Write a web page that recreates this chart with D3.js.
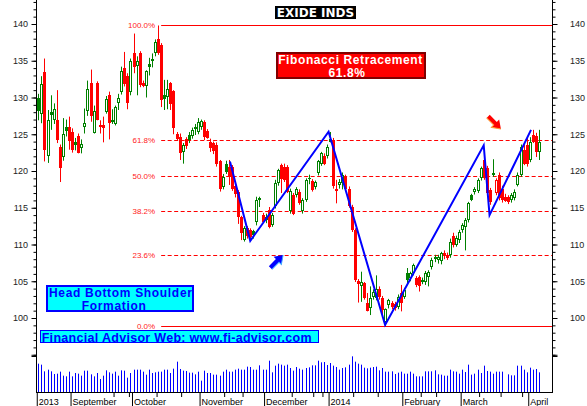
<!DOCTYPE html>
<html>
<head>
<meta charset="utf-8">
<script src="https://cdn.jsdelivr.net/npm/d3@7"></script>
<style>
  body { margin: 0; background: #fff; }
  svg { display: block; }
</style>
</head>
<body>
<div id="chart"></div>
<script>
// Daily bars, EXIDE INDS, Aug 2013 - Apr 2014
const open = [
  130.0,127.7,133.5,122.1,128.0,127.0,126.9,123.3,121.9,126.0,
  126.0,125.3,123.9,124.8,123.1,126.0,128.1,132.0,125.2,132.0,
  126.3,126.3,128.0,130.3,126.6,126.4,129.3,130.8,134.0,132.9,
  130.8,136.1,134.3,136.0,132.0,131.5,134.6,134.9,136.1,138.0,
  137.1,130.4,130.1,132.0,130.9,125.0,124.6,122.6,124.3,124.9,
  124.8,126.0,125.3,126.0,126.6,125.5,124.0,123.8,123.6,121.3,
  117.8,121.0,120.6,120.5,117.9,117.2,113.8,110.6,112.2,112.0,
  111.8,113.1,116.3,114.0,113.3,114.7,112.6,115.2,118.3,120.8,
  120.6,120.6,114.5,116.7,116.7,117.2,114.5,116.1,119.1,118.6,
  117.8,119.7,121.0,122.0,122.0,124.4,124.2,117.6,118.1,118.3,
  119.2,117.6,115.1,112.0,105.0,104.3,104.7,102.1,101.3,102.8,
  102.7,104.0,102.7,99.5,101.8,102.0,101.9,101.5,103.4,102.9,
  106.1,105.4,106.1,105.4,105.6,105.2,104.9,105.6,107.0,108.3,
  107.9,107.7,108.9,108.6,108.6,111.1,110.0,110.6,112.0,112.4,
  113.3,116.7,117.2,117.3,119.0,121.5,120.4,117.4,119.7,117.0,
  119.5,117.6,116.5,116.4,116.0,116.3,118.1,119.5,122.9,123.5,
  121.5,124.9,124.7,122.6
];
const high = [
  130.5,132.9,135.3,128.3,130.3,129.2,131.0,123.6,127.2,127.0,
  127.4,125.8,124.5,125.1,124.3,128.5,132.3,133.8,128.9,132.2,
  126.9,127.4,130.2,130.8,128.4,128.9,130.5,134.2,136.2,133.3,
  135.3,138.7,135.6,136.3,132.3,133.7,135.4,136.0,137.9,139.8,
  137.4,132.4,132.4,132.1,131.0,125.3,125.1,123.8,124.6,125.3,
  125.9,126.4,127.2,127.0,126.9,125.7,124.4,124.0,123.9,121.5,
  119.6,121.4,121.5,120.8,118.2,117.4,113.9,112.5,112.5,112.2,
  112.0,116.5,116.5,114.3,114.2,115.1,114.3,118.8,120.3,121.0,
  121.0,120.8,117.6,117.0,117.8,117.5,116.3,119.0,119.5,118.9,
  118.7,121.5,122.6,122.4,123.6,125.3,124.5,118.8,118.9,119.8,
  119.5,117.9,115.4,112.2,105.3,106.3,104.9,103.4,104.3,103.9,
  105.8,104.3,103.0,101.3,102.6,102.3,102.2,103.2,104.5,104.1,
  106.8,106.3,107.4,105.7,105.8,105.5,106.4,106.5,108.2,108.6,
  108.6,109.0,109.2,108.9,110.8,111.6,111.2,112.0,112.9,113.6,
  115.8,116.9,117.8,119.0,120.6,122.3,120.7,117.7,121.6,119.0,
  119.8,118.0,116.9,116.7,117.0,117.5,119.8,123.6,123.6,124.7,
  124.6,125.6,125.2,125.6
];
const low = [
  126.9,126.5,121.3,121.1,125.6,126.4,123.8,118.5,121.4,124.7,
  122.9,122.5,122.8,122.4,122.4,125.1,127.5,126.7,125.1,126.9,
  125.1,123.9,127.8,124.3,126.4,126.2,128.3,130.4,131.5,128.4,
  130.3,133.3,130.3,131.4,131.4,130.0,133.0,134.1,135.6,135.8,
  128.7,128.3,128.4,128.3,125.0,124.2,121.5,121.0,123.0,123.8,
  124.4,124.9,125.0,125.6,124.2,124.4,122.6,122.3,120.6,117.2,
  117.5,119.6,118.1,117.3,116.4,112.8,110.6,110.4,110.8,110.5,
  110.8,112.6,115.1,113.0,112.9,112.2,112.4,114.9,118.0,117.0,
  118.5,117.0,114.2,114.0,116.4,115.4,114.2,115.8,118.2,117.2,
  117.5,119.4,120.7,120.8,121.7,123.9,117.6,115.6,117.6,117.5,
  117.4,115.0,111.7,104.9,102.1,102.2,102.5,100.9,100.4,102.5,
  102.4,102.5,100.2,98.9,101.3,101.2,101.0,101.2,100.9,102.6,
  104.5,105.0,105.8,104.2,103.6,104.6,104.5,104.3,106.6,107.6,
  107.4,107.3,108.0,107.9,108.2,109.6,109.7,110.2,111.6,109.2,
  113.0,115.9,116.8,117.0,118.7,118.8,116.8,115.4,119.2,116.7,
  116.0,115.7,115.8,115.5,115.7,116.0,117.9,119.2,120.8,120.6,
  121.2,123.8,121.9,121.5
];
const close = [
  128.1,131.8,122.9,127.0,127.6,128.5,124.2,120.4,125.1,125.5,
  124.1,122.9,123.5,122.5,123.7,126.5,131.2,127.5,128.2,127.0,
  126.0,125.9,129.8,126.5,127.0,128.7,129.9,133.6,131.8,129.2,
  135.0,134.1,135.0,131.7,131.5,133.6,134.2,135.2,137.6,136.0,
  129.7,129.8,131.1,129.1,125.9,124.3,122.5,123.5,123.4,124.2,
  125.6,125.7,126.6,126.8,124.6,124.5,123.1,122.7,120.9,117.6,
  119.2,119.9,119.2,117.6,116.9,113.8,111.5,112.2,111.1,111.0,
  111.3,116.0,116.1,113.1,113.8,112.4,114.0,118.3,120.1,118.9,
  118.8,117.2,117.3,114.2,117.6,115.6,116.1,118.8,118.9,117.4,
  118.5,121.3,122.4,121.0,123.3,124.0,117.9,117.3,118.5,119.4,
  117.6,115.2,112.0,105.2,104.6,104.9,102.7,101.0,102.7,103.6,
  104.0,102.9,101.1,101.2,102.4,101.5,101.3,102.9,102.0,103.8,
  105.2,106.1,107.2,104.5,104.3,104.9,106.1,106.3,107.9,108.0,
  108.3,108.8,108.4,108.1,110.4,109.9,110.9,111.7,112.6,113.3,
  115.6,116.0,117.6,118.8,120.4,119.0,117.0,115.8,119.5,118.8,
  116.3,116.0,115.9,115.8,116.7,117.2,119.5,123.3,121.0,121.0,
  124.0,123.9,122.6,124.0
];
const volume = [
  85,82,62,67,62,54,55,61,49,47,
  61,47,57,55,49,64,64,53,47,57,
  39,49,65,59,55,61,49,65,64,43,
  57,67,67,67,61,52,67,57,59,61,
  61,67,67,57,70,91,69,64,63,58,
  58,53,61,34,64,57,57,52,52,49,
  61,67,61,61,67,70,67,67,76,75,
  67,67,80,67,67,94,59,79,85,82,
  79,82,72,64,75,70,67,72,74,80,
  80,94,89,90,81,87,79,75,67,72,
  74,82,107,91,85,82,73,71,73,75,
  76,65,72,61,61,62,54,58,61,55,
  55,61,55,47,47,47,62,62,62,65,
  53,52,49,49,67,62,61,55,67,60,
  82,52,55,67,57,79,63,61,55,61,
  61,61,0,53,50,50,79,79,67,59,
  73,67,69,59
];

// first bar of each month and its label
const monthStarts = [0, 11, 31, 53, 74, 95, 119, 138, 160];
const monthLabels = ["2013", "September", "October", "November", "December", "2014", "February", "March", "April"];
const weekTicks = [24.5, 29.5, 38.5, 46.5, 60.5, 66.5, 82.5, 89.5, 92.5, 102.5, 110.5, 124.5, 129.5, 143.5, 150.5, 157.5];

// fibonacci retracement drawn from the top bar to the bottom
const fibHigh = 139.8, fibLow = 98.9, fibStart = 40;
const fibRatios = [1, 0.618, 0.5, 0.382, 0.236, 0];
const fibLabels = ["100.0%", "61.8%", "50.0%", "38.2%", "23.6%", "0.0%"];

// hand drawn blue pattern line: [bar, price]
const pattern = [[62.4, 121.3], [69, 110.5], [94.5, 125.35], [112.9, 99.05], [145, 123.5], [146.9, 114.0], [160.4, 125.6]];

const width = 587, height = 406;
const N = close.length;
const FONT = "'Liberation Sans', Arial, sans-serif";

const x = d3.scaleLinear().domain([0, N - 1]).range([38.3, 539]);
const y = d3.scaleLinear().domain([100, 140]).range([318, 24]);
const yVol = d3.scaleLinear().domain([0, 108]).range([392, 356]);
const px = i => Math.round(x(i));

const svg = d3.select("#chart").append("svg")
    .attr("width", width)
    .attr("height", height)
    .style("background", "#fff");

// volume
svg.append("g")
    .selectAll("line")
    .data(d3.range(N))
    .join("line")
    .attr("x1", i => px(i) + 0.5)
    .attr("x2", i => px(i) + 0.5)
    .attr("y1", yVol(0))
    .attr("y2", i => yVol(volume[i]))
    .attr("stroke", "#0000ff");

// fibonacci levels
const fib = svg.append("g");
fibRatios.forEach((r, k) => {
    const v = fibLow + (fibHigh - fibLow) * r;
    const yy = Math.round(y(v)) + 0.5;
    fib.append("line")
        .attr("x1", x(fibStart)).attr("x2", 552)
        .attr("y1", yy).attr("y2", yy)
        .attr("stroke", "#ff0000")
        .attr("stroke-dasharray", (r === 1 || r === 0) ? null : "4,2.5");
    fib.append("text")
        .attr("x", x(fibStart) - 6)
        .attr("y", yy)
        .attr("dy", r === 0 ? "0.25em" : "0.35em")
        .attr("text-anchor", "end")
        .attr("font-family", FONT)
        .attr("font-size", 8)
        .attr("fill", "#ff1a1a")
        .text(fibLabels[k]);
});

// candles
const colorOf = i => (i === 0 || close[i] > close[i - 1]) ? "#008000" : "#ff0000";
const candle = svg.append("g")
    .selectAll("g")
    .data(d3.range(N))
    .join("g");

candle.append("line")
    .attr("x1", i => px(i) + 0.5)
    .attr("x2", i => px(i) + 0.5)
    .attr("y1", i => y(high[i]))
    .attr("y2", i => y(low[i]))
    .attr("stroke", colorOf);

candle.append("rect")
    .each(function (i) {
        const top = Math.round(y(Math.max(open[i], close[i])));
        const bot = Math.round(y(Math.min(open[i], close[i])));
        const h = Math.max(1, bot - top);
        const hollow = close[i] > open[i] && h > 2;
        const r = d3.select(this);
        if (hollow) {
            r.attr("x", px(i) - 0.5).attr("y", top + 0.5)
             .attr("width", 2).attr("height", h - 1)
             .attr("fill", "#fff").attr("stroke", colorOf(i));
        } else {
            r.attr("x", px(i) - 1).attr("y", top)
             .attr("width", 3).attr("height", h)
             .attr("fill", colorOf(i));
        }
    });

// pattern line
svg.append("path")
    .datum(pattern)
    .attr("fill", "none")
    .attr("stroke", "#0000ff")
    .attr("stroke-width", 2)
    .attr("stroke-linejoin", "miter")
    .attr("d", d3.line().x(d => x(d[0])).y(d => y(d[1])));

// axes frame
svg.append("line").attr("x1", 36.5).attr("x2", 36.5).attr("y1", 0).attr("y2", 392).attr("stroke", "#000");
svg.append("line").attr("x1", 552.5).attr("x2", 552.5).attr("y1", 0).attr("y2", 392).attr("stroke", "#000");
svg.append("line").attr("x1", 36).attr("x2", 553).attr("y1", 392.5).attr("y2", 392.5).attr("stroke", "#000");

const styleAxis = g => {
    g.select(".domain").remove();
    g.selectAll("text").attr("font-family", FONT).attr("font-size", 9).attr("fill", "#222");
};

const minorVals = d3.range(95, 144);
const majorVals = d3.range(95, 141, 5);
const lbl = d => d >= 100 ? d : "";

svg.append("g").attr("transform", "translate(36.5,0)")
    .call(d3.axisLeft(y).tickValues(minorVals).tickSize(3).tickFormat(""))
    .call(styleAxis);
svg.append("g").attr("transform", "translate(36.5,0)")
    .call(d3.axisLeft(y).tickValues(majorVals).tickSize(5).tickPadding(3.5).tickFormat(lbl))
    .call(styleAxis);
svg.append("g").attr("transform", "translate(552.5,0)")
    .call(d3.axisRight(y).tickValues(minorVals).tickSize(3).tickFormat(""))
    .call(styleAxis);
svg.append("g").attr("transform", "translate(552.5,0)")
    .call(d3.axisRight(y).tickValues(majorVals).tickSize(5).tickPadding(12.5).tickFormat(lbl))
    .call(styleAxis);

// volume pane top ticks
[36.5, 552.5].forEach((ax, k) => {
    svg.append("g").attr("transform", `translate(${ax},0)`)
        .call((k ? d3.axisRight(yVol) : d3.axisLeft(yVol)).tickValues([108]).tickSize(5).tickFormat(""))
        .call(styleAxis);
});

// time axis
svg.append("g").attr("transform", "translate(0,392)")
    .call(d3.axisBottom(x).tickValues(weekTicks).tickSize(5).tickFormat(""))
    .call(styleAxis);
svg.append("g").attr("transform", "translate(0,392)")
    .call(d3.axisBottom(x).tickValues(monthStarts.map(m => m - 0.5)).tickSize(14)
        .tickFormat((d, k) => monthLabels[k]))
    .call(styleAxis)
    .call(g => g.selectAll("text")
        .attr("text-anchor", "start")
        .attr("x", 1.5)
        .attr("y", 13)
        .attr("dy", 0)
        .attr("fill", "#000"));

// title
svg.append("rect").attr("x", 275).attr("y", 6).attr("width", 81).attr("height", 13).attr("fill", "#000");
svg.append("text")
    .attr("x", 315.5).attr("y", 16.7)
    .attr("text-anchor", "middle")
    .attr("font-family", "'DejaVu Sans', Verdana, sans-serif")
    .attr("font-weight", "bold")
    .attr("font-size", 12)
    .attr("fill", "#fff")
    .text("EXIDE INDS");

// annotation boxes
function box(x0, y0, w, h, fill, stroke, sw) {
    svg.append("rect")
        .attr("x", x0 + sw / 2).attr("y", y0 + sw / 2)
        .attr("width", w - sw).attr("height", h - sw)
        .attr("fill", fill).attr("stroke", stroke).attr("stroke-width", sw);
}
// lines: [x, baseline y, anchor, text]
function label(color, size, spacing, lines) {
    const t = svg.append("text")
        .attr("font-family", FONT)
        .attr("font-weight", "bold")
        .attr("font-size", size)
        .attr("letter-spacing", spacing)
        .attr("fill", color);
    lines.forEach(([tx, ty, anchor, s]) => {
        t.append("tspan").attr("x", tx).attr("y", ty).attr("text-anchor", anchor).text(s);
    });
}

box(276, 52, 150, 27, "#ff0000", "#800000", 2);
label("#fff", 12, 0.6, [[350.5, 63.8, "middle", "Fibonacci Retracement"], [347, 77.3, "middle", "61.8%"]]);

box(46, 285, 148, 27, "#00ffff", "#0000ff", 2);
label("#0000ff", 12, 0.68, [[120.8, 296.5, "middle", "Head Bottom Shoulder"], [81.7, 310, "start", "Formation"]]);

box(40, 330, 279, 13, "#00ffff", "#0000ff", 1);
label("#0000ff", 12.5, 0.3, [[41.7, 341.7, "start", "Financial Advisor Web: www.fi-advisor.com"]]);

// arrows: tip at [bar, price], pointing angle in degrees
const arrows = [
    { i: 79.7, p: 108.57, angle: -45, fill: "#0000ff", edge: "#3fa9ff" },
    { i: 150.6, p: 125.7, angle: 45, fill: "#ff0000", edge: "#ff9933" }
];
const arrowShape = "M0,0 L-8,-5.5 L-8,-2.2 L-18,-2.2 L-18,2.2 L-8,2.2 L-8,5.5 Z";
arrows.forEach(a => {
    const g = svg.append("g")
        .attr("transform", `translate(${x(a.i)},${y(a.p)}) rotate(${a.angle})`);
    g.append("path").attr("d", arrowShape).attr("fill", a.fill);
    g.append("path").attr("d", "M0,0 L-8,5.5 L-8,2.2 L-18,2.2")
        .attr("fill", "none").attr("stroke", a.edge).attr("stroke-width", 1);
});
</script>
</body>
</html>
